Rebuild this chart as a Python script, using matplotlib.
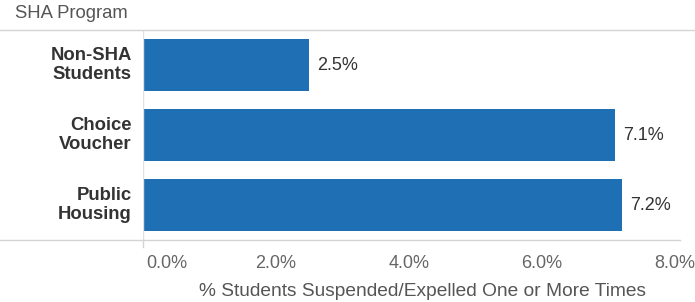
import matplotlib.pyplot as plt
from matplotlib.lines import Line2D

# data
programs = ['Non-SHA\nStudents', 'Choice\nVoucher', 'Public\nHousing']
pct_suspended = [2.5, 7.1, 7.2]
value_labels = ['2.5%', '7.1%', '7.2%']
tick_values = [0, 2, 4, 6, 8]
tick_labels = ['0.0%', '2.0%', '4.0%', '6.0%', '8.0%']

plt.rcParams['font.family'] = ['Liberation Sans', 'DejaVu Sans']

bar_color = '#1f6fb4'
W, H = 695, 302
fig = plt.figure(figsize=(W / 100, H / 100), dpi=100)
ax = fig.add_axes([143 / W, 1 - 240 / H, (675 - 143) / W, 210 / H])

y = list(range(len(programs)))
ax.barh(y, pct_suspended, height=0.74, color=bar_color)
for yi, v, lab in zip(y, pct_suspended, value_labels):
    ax.text(v + 0.12, yi, lab, va='center', ha='left', fontsize=13, color='#333333')

ax.set_xlim(0, 8)
ax.set_ylim(2.5, -0.5)
ax.set_yticks([])
ax.set_xticks([])
for s in ax.spines.values():
    s.set_visible(False)
ax.axvline(0, color='#e0e0e0', lw=1)

# row labels
for yi, name in zip(y, programs):
    ax.text(-0.17, yi, name, ha='right', va='center', fontsize=13.3, fontweight='bold',
            color='#333333', linespacing=1.1)

# x tick labels (first one pushed inside, like tableau does)
tick_y = -(264 - 240) / 210
for tv, tl in zip(tick_values, tick_labels):
    if tv == 0:
        ax.text(0.05, tick_y, tl, transform=ax.get_xaxis_transform(), ha='left',
                va='center', fontsize=13, color='#666666')
    else:
        ax.text(tv, tick_y, tl, transform=ax.get_xaxis_transform(), ha='center',
                va='center', fontsize=13, color='#666666')

fig.text((197 + 648) / 2 / W, 1 - 291 / H, '% Students Suspended/Expelled One or More Times',
         ha='center', va='center', fontsize=13.8, color='#555555')

# header and divider lines
fig.text(15 / W, 1 - 14 / H, 'SHA Program', ha='left', va='center', fontsize=13.3, color='#555555')
fig.add_artist(Line2D([0, 1], [1 - 30 / H, 1 - 30 / H], color='#d4d4d4', lw=1))
fig.add_artist(Line2D([0, 680 / W], [1 - 240 / H, 1 - 240 / H], color='#d4d4d4', lw=1))
fig.add_artist(Line2D([143 / W, 143 / W], [1 - 240 / H, 1 - 247 / H], color='#d4d4d4', lw=1))

fig.savefig('out.png', dpi=100)
